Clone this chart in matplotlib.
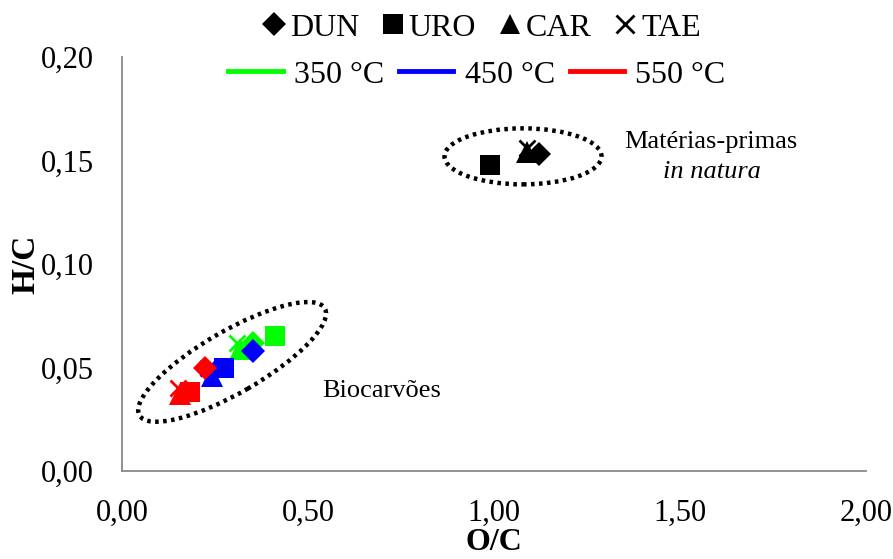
import matplotlib
matplotlib.use("Agg")
import matplotlib.pyplot as plt
from matplotlib.patches import Ellipse
from matplotlib.lines import Line2D
from matplotlib.transforms import ScaledTranslation
from matplotlib.ticker import FuncFormatter

plt.rcParams['font.family'] = ['Liberation Serif', 'DejaVu Serif']

# Data
feedstocks = ['DUN', 'URO', 'CAR', 'TAE']
markers = ['D', 's', '^', 'x']
raw_oc = [1.12, 0.99, 1.09, 1.09]
raw_hc = [0.153, 0.148, 0.154, 0.156]
oc_350 = [0.352, 0.411, 0.317, 0.310]
hc_350 = [0.062, 0.065, 0.059, 0.062]
oc_450 = [0.352, 0.274, 0.242, 0.231]
hc_450 = [0.058, 0.050, 0.046, 0.050]
oc_550 = [0.223, 0.183, 0.156, 0.150]
hc_550 = [0.050, 0.038, 0.037, 0.040]
temps = ['350 °C', '450 °C', '550 °C']
colors = ['#00FF00', '#0000FF', '#FF0000']

W, H = 893, 559
fig = plt.figure(figsize=(W / 100, H / 100), dpi=100)
ax = fig.add_axes([122 / W, 1 - 471 / H, (866 - 122) / W, (471 - 57) / H])

msizes = {'D': 12, 's': 14.5, '^': 16.5, 'x': 12}

def plot_set(oc, hc, color):
    for x, y, m in zip(oc, hc, markers):
        kw = dict(marker=m, linestyle='none', markersize=msizes[m], color=color)
        kw['markeredgewidth'] = 2 if m == 'x' else 0
        ax.plot([x], [y], **kw)

plot_set(raw_oc, raw_hc, 'black')
plot_set(oc_350, hc_350, colors[0])
plot_set(oc_450, hc_450, colors[1])
plot_set(oc_550, hc_550, colors[2])

ax.set_xlim(0, 2.0)
ax.set_ylim(0, 0.20)
ax.set_xticks([0, 0.5, 1.0, 1.5, 2.0])
ax.set_yticks([0, 0.05, 0.10, 0.15, 0.20])
fmt = FuncFormatter(lambda v, p: f"{v:.2f}".replace('.', ','))
ax.xaxis.set_major_formatter(fmt)
ax.yaxis.set_major_formatter(fmt)
ax.tick_params(length=0, labelsize=22, pad=20)
for s in ['top', 'right']:
    ax.spines[s].set_visible(False)
for s in ['left', 'bottom']:
    ax.spines[s].set_color('#898989')
    ax.spines[s].set_linewidth(1.3)

ax.set_xlabel('O/C', fontsize=23, fontweight='bold')
ax.set_ylabel('H/C', fontsize=24, fontweight='bold')
ax.xaxis.set_label_coords(0.50, -0.138)
ax.yaxis.set_label_coords(-0.108, 0.50)

# Ellipses (sized in pixels, anchored in data coords)
def add_ellipse(cx, cy, wpx, hpx, angle):
    tr = fig.dpi_scale_trans + ScaledTranslation(cx, cy, ax.transData)
    e = Ellipse((0, 0), wpx / 100, hpx / 100, angle=angle, transform=tr,
                fill=False, edgecolor='black', linewidth=3.2,
                linestyle=(0, (0.8, 1.0)))
    e.set_capstyle('butt')
    ax.add_patch(e)

add_ellipse(1.078, 0.152, 157, 56, 0)
add_ellipse(0.296, 0.0527, 214, 62, 30)

ax.text(0.699, 0.0357, 'Biocarvões', fontsize=19, ha='center', va='baseline')
ax.text(1.583, 0.156, 'Matérias-primas', fontsize=19, ha='center', va='baseline')
ax.text(1.586, 0.1415, 'in natura', fontsize=19, ha='center', va='baseline', style='italic')

# Legends
h1 = [Line2D([], [], marker=m, color='black', linestyle='none',
             markersize={'D': 12, 's': 14, '^': 15, 'x': 13}[m],
             markeredgewidth=2 if m == 'x' else 0) for m in markers]
leg1 = fig.legend(h1, feedstocks, loc='center', bbox_to_anchor=(481 / W, 1 - 28 / H),
                  ncol=4, frameon=False, fontsize=23, handlelength=0.8,
                  handletextpad=0.1, columnspacing=0.65, borderaxespad=0,
                  borderpad=0)
h2 = [Line2D([], [], color=c, linewidth=3.5) for c in colors]
leg2 = fig.legend(h2, temps, loc='center', bbox_to_anchor=(477 / W, 1 - 75 / H),
                  ncol=3, frameon=False, fontsize=23, handlelength=1.7,
                  handletextpad=0.35, columnspacing=0.47, borderaxespad=0,
                  borderpad=0)

fig.savefig('out.png', dpi=100)
